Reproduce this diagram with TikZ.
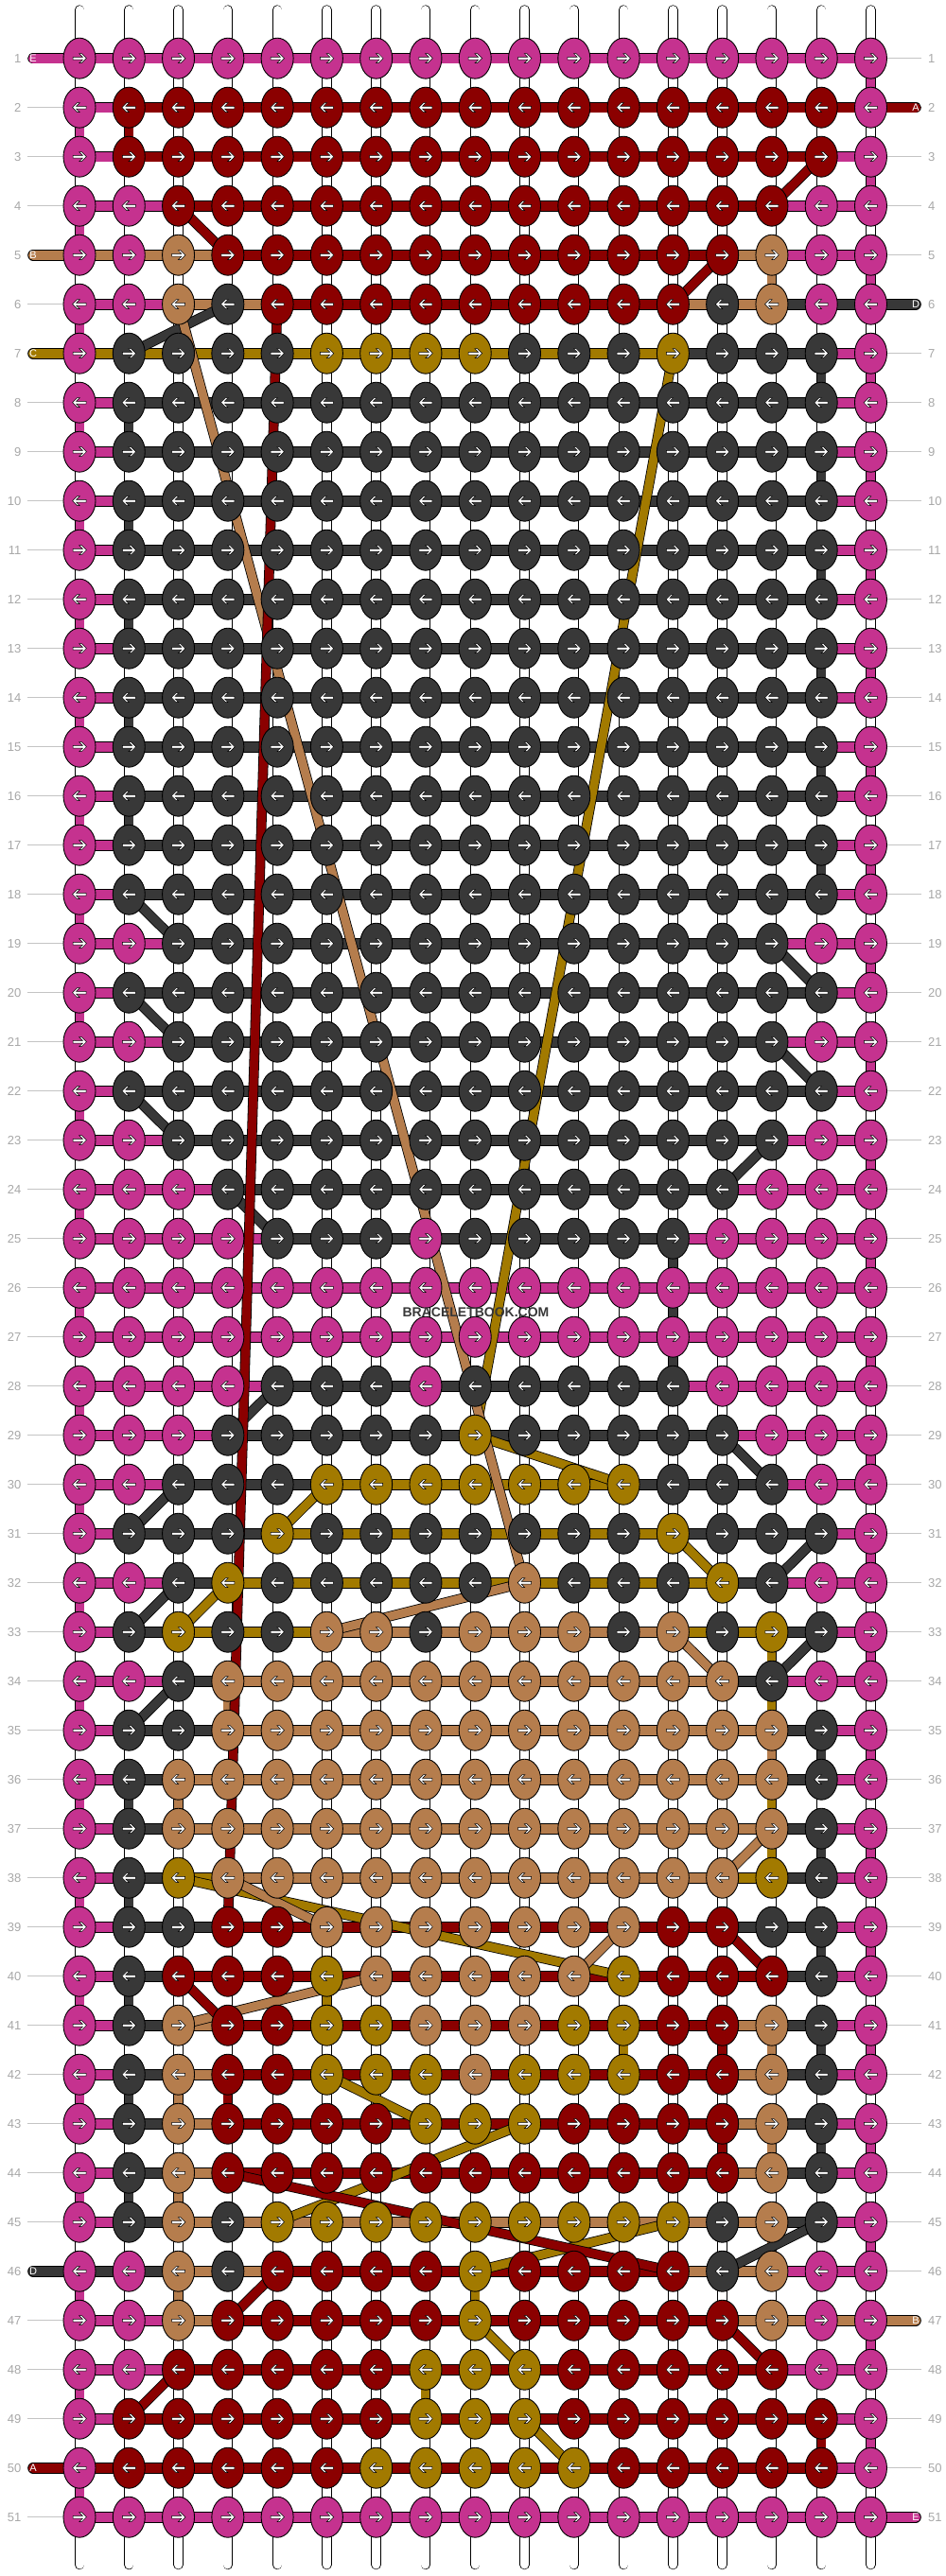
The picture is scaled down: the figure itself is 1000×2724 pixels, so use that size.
\documentclass[tikz,border=0pt]{standalone}
\usepackage{fontspec}
\setmainfont{Liberation Sans}
\usetikzlibrary{shapes.geometric}
\definecolor{cP}{HTML}{C5328F}
\definecolor{cR}{HTML}{8B0000}
\definecolor{cT}{HTML}{B57D4D}
\definecolor{cG}{HTML}{A27A00}
\definecolor{cK}{HTML}{383838}
\definecolor{labgray}{HTML}{A8A8A8}
\definecolor{lingray}{HTML}{C4C4C4}
\newcount\knotcnt
\tikzset{
  knot/.style={ellipse, draw=black, line width=0.9pt, minimum width=34pt, minimum height=43pt, inner sep=0pt},
  arrowst/.style={fill=white, draw=black, line width=0.5pt},
  hthr/.style={draw=black, line width=0.8pt, double=#1, double distance=10pt},
  dthr/.style={draw=black, line width=0.8pt, double=#1, double distance=9pt},
  vthr/.style={draw=black, line width=0.7pt, double=#1, double distance=9pt},
  wstring/.style={draw=black, line width=0.7pt, double=white, double distance=9pt, line cap=round},
  labline/.style={draw=lingray, line width=1.2pt},
  lab/.style={text=labgray, font=\fontsize{13}{13}\selectfont, inner sep=0pt},
  stublab/.style={text=white, font=\fontsize{11}{11}\selectfont, inner sep=0pt},
  wm/.style={text=cK, font=\fontsize{14}{14}\selectfont\bfseries, inner sep=1pt}
}
\newcommand\krow[2]{%
  \global\knotcnt=0
  \foreach \cc/\nn in {#2}{%
    \foreach \ii in {1,...,\nn}{%
      \global\advance\knotcnt by 1
      \edef\cn{\the\knotcnt}%
      \node[knot, fill=c\cc] (k-#1-\cn) at (p-#1-\cn) {};
      \ifodd#1\relax\def\adir{1}\else\def\adir{-1}\fi
      \draw[arrowst, shift={(p-#1-\cn)}, xscale=\adir] (-7,-1.4) -- (3.3,-1.4) -- (-0.2,-5) -- (2.4,-5) -- (7.4,0) -- (2.4,5) -- (-0.2,5) -- (3.3,1.4) -- (-7,1.4) -- cycle;
    }}}
\newcommand\srow[2]{%
  \global\knotcnt=0
  \foreach \cc/\nn in {#2}{%
    \foreach \ii in {1,...,\nn}{%
      \global\advance\knotcnt by 1
      \edef\cn{\the\knotcnt}%
      \pgfmathtruncatemacro\cm{\the\knotcnt+1}%
      \draw[hthr=c\cc] (p-#1-\cn) -- (p-#1-\cm);
    }}}
\begin{document}
\begin{tikzpicture}[x=1pt,y=-1pt]
\useasboundingbox (0,0) rectangle (1000,2724);
\fill[white] (0,0) rectangle (1000,2724);
% grid coordinates
\foreach \r in {1,...,51}{
  \foreach \c in {1,...,17}{
    \coordinate (p-\r-\c) at ({84+52.28*(\c-1)},{61.7+52*(\r-1)});
  }
}
% white base strings
\foreach \c in {1,...,17}{
  \coordinate (top-\c) at ({84+52.28*(\c-1)},10.5);
  \coordinate (bot-\c) at ({84+52.28*(\c-1)},2712);
  \draw[wstring] (top-\c) -- (bot-\c);
}
% row numbers and guide lines
\foreach \r in {1,...,51}{
  \pgfmathsetmacro\yy{61.7+52*(\r-1)}
  \coordinate (le-\r) at (28.5,\yy);
  \coordinate (re-\r) at (974,\yy);
  \coordinate (ls-\r) at (35,\yy);
  \coordinate (rs-\r) at (968,\yy);
  \draw[labline] (le-\r) -- (p-\r-1);
  \draw[labline] (p-\r-17) -- (re-\r);
  \node[lab, anchor=east] (nl-\r) at (22.5,\yy) {\r};
  \node[lab, anchor=west] (nr-\r) at (981,\yy) {\r};
}
% vertical connectors
\foreach \r in {1,...,50}{
  \pgfmathtruncatemacro\rn{\r+1}
  \ifodd\r\relax\def\vc{17}\else\def\vc{1}\fi
  \draw[vthr=cP] (p-\r-\vc) -- (p-\rn-\vc);
}
\foreach \r/\c/\col in {7/16/cK,8/2/cK,9/16/cK,10/2/cK,11/16/cK,12/2/cK,13/16/cK,14/2/cK,15/16/cK,16/2/cK,17/16/cK,
  25/13/cK,26/13/cK,27/13/cK,35/16/cK,36/2/cK,37/16/cK,38/2/cK,39/16/cK,40/2/cK,41/16/cK,42/2/cK,43/16/cK,44/2/cK,
  2/2/cR,41/14/cR,42/4/cR,43/14/cR,49/16/cR,
  33/15/cG,34/15/cG,36/15/cG,37/15/cG,40/6/cG,41/12/cG,46/9/cG,48/8/cG,
  5/15/cT,34/4/cT,35/15/cT,36/3/cT,41/15/cT,42/3/cT,43/15/cT,44/3/cT,45/15/cT,46/3/cT}{
  \pgfmathtruncatemacro\rn{\r+1}
  \draw[vthr=\col] (p-\r-\c) -- (p-\rn-\c);
}
% horizontal segments
\srow{1}{P/16}
\srow{2}{P/1,R/15}
\srow{3}{P/1,R/14,P/1}
\srow{4}{P/2,R/12,P/2}
\srow{5}{T/3,R/10,T/1,P/2}
\srow{6}{P/2,T/2,R/8,T/2,K/2}
\srow{7}{G/12,K/3,P/1}
\foreach \r in {8,9,10,11,12,13,14,15,16,17,18,20,22}{\srow{\r}{P/1,K/14,P/1}}
\foreach \r in {19,21,23}{\srow{\r}{P/2,K/12,P/2}}
\srow{24}{P/3,K/10,P/3}
\srow{25}{P/4,K/8,P/4}
\srow{26}{P/16}
\srow{27}{P/16}
\srow{28}{P/4,K/8,P/4}
\srow{29}{P/3,K/10,P/3}
\srow{30}{P/2,K/3,G/6,K/3,P/2}
\srow{31}{P/1,K/3,G/8,K/3,P/1}
\srow{32}{P/2,K/1,G/10,K/1,P/2}
\srow{33}{P/1,K/1,G/3,T/7,G/2,K/1,P/1}
\srow{34}{P/2,K/1,T/10,K/1,P/2}
\srow{35}{P/1,K/2,T/11,K/1,P/1}
\srow{36}{P/1,K/1,T/12,K/1,P/1}
\srow{37}{P/1,K/1,T/12,K/1,P/1}
\srow{38}{P/1,K/1,G/1,T/10,G/1,K/1,P/1}
\srow{39}{P/1,K/2,R/10,K/2,P/1}
\srow{40}{P/1,K/1,R/12,K/1,P/1}
\foreach \r in {41,42,43,44}{\srow{\r}{P/1,K/1,T/1,R/10,T/1,K/1,P/1}}
\srow{45}{P/1,K/1,T/12,K/1,P/1}
\srow{46}{K/2,T/2,R/8,T/2,P/2}
\srow{47}{P/2,T/1,R/10,T/3}
\srow{48}{P/2,R/12,P/2}
\srow{49}{P/1,R/14,P/1}
\srow{50}{R/15,P/1}
\srow{51}{P/16}
% thread ends with letters
\foreach \r/\col/\lt in {1/cP/E,5/cT/B,7/cG/C,46/cK/D,50/cR/A}{
  \draw[hthr=\col, line cap=round] (ls-\r) -- (p-\r-1);
  \node[stublab] (sl-\r) at (ls-\r) {\lt};
}
\foreach \r/\col/\lt in {2/cR/A,6/cK/D,47/cT/B,51/cP/E}{
  \draw[hthr=\col, line cap=round] (p-\r-17) -- (rs-\r);
  \node[stublab] (sr-\r) at (rs-\r) {\lt};
}
% diagonal thread moves
\foreach \ra/\ca/\rb/\cb in {6/4/7/2,18/2/19/3,19/15/20/16,20/2/21/3,21/15/22/16,22/2/23/3,23/15/24/14,24/4/25/5,28/5/29/4,29/14/30/15,30/3/31/2,31/16/32/15,32/3/33/2,33/16/34/15,34/3/35/2,45/16/46/14}{
  \draw[dthr=cK] (p-\ra-\ca) -- (p-\rb-\cb);
}
\foreach \ra/\ca/\rb/\cb in {7/13/29/9,29/9/30/12,30/6/31/5,31/13/32/14,32/4/33/3,38/3/40/12,42/6/43/8,43/10/45/5,45/13/46/9,47/9/48/10,49/10/50/11}{
  \draw[dthr=cG] (p-\ra-\ca) -- (p-\rb-\cb);
}
\foreach \ra/\ca/\rb/\cb in {6/3/32/10,32/10/33/6,33/13/34/14,37/15/38/14,38/4/39/6,39/12/40/11,40/7/41/3}{
  \draw[dthr=cT] (p-\ra-\ca) -- (p-\rb-\cb);
}
\foreach \ra/\ca/\rb/\cb in {3/16/4/15,4/3/5/4,5/14/6/13,6/5/39/4,39/14/40/15,40/3/41/4,44/4/46/13,46/5/47/4,47/14/48/15,48/3/49/2}{
  \draw[dthr=cR] (p-\ra-\ca) -- (p-\rb-\cb);
}
% knots
\krow{1}{P/17}
\krow{2}{P/1,R/15,P/1}
\krow{3}{P/1,R/15,P/1}
\krow{4}{P/2,R/13,P/2}
\krow{5}{P/2,T/1,R/11,T/1,P/2}
\krow{6}{P/2,T/1,K/1,R/9,K/1,T/1,P/2}
\krow{7}{P/1,K/4,G/4,K/3,G/1,K/3,P/1}
\foreach \r in {8,9,10,11,12,13,14,15,16,17,18,20,22}{\krow{\r}{P/1,K/15,P/1}}
\foreach \r in {19,21,23}{\krow{\r}{P/2,K/13,P/2}}
\krow{24}{P/3,K/11,P/3}
\krow{25}{P/4,K/3,P/1,K/5,P/4}
\krow{26}{P/17}
\krow{27}{P/17}
\krow{28}{P/4,K/3,P/1,K/5,P/4}
\krow{29}{P/3,K/5,G/1,K/5,P/3}
\krow{30}{P/2,K/3,G/7,K/3,P/2}
\krow{31}{P/1,K/3,G/1,K/7,G/1,K/3,P/1}
\krow{32}{P/2,K/1,G/1,K/5,T/1,K/3,G/1,K/1,P/2}
\krow{33}{P/1,K/1,G/1,K/2,T/2,K/1,T/3,K/1,T/1,K/1,G/1,K/1,P/1}
\krow{34}{P/2,K/1,T/11,K/1,P/2}
\krow{35}{P/1,K/2,T/12,K/1,P/1}
\krow{36}{P/1,K/1,T/13,K/1,P/1}
\krow{37}{P/1,K/1,T/13,K/1,P/1}
\krow{38}{P/1,K/1,G/1,T/11,G/1,K/1,P/1}
\krow{39}{P/1,K/2,R/2,T/7,R/2,K/2,P/1}
\krow{40}{P/1,K/1,R/3,G/1,T/5,G/1,R/3,K/1,P/1}
\krow{41}{P/1,K/1,T/1,R/2,G/2,T/3,G/2,R/2,T/1,K/1,P/1}
\krow{42}{P/1,K/1,T/1,R/2,G/3,T/1,G/3,R/2,T/1,K/1,P/1}
\krow{43}{P/1,K/1,T/1,R/4,G/3,R/4,T/1,K/1,P/1}
\krow{44}{P/1,K/1,T/1,R/11,T/1,K/1,P/1}
\krow{45}{P/1,K/1,T/1,K/1,G/9,K/1,T/1,K/1,P/1}
\krow{46}{P/2,T/1,K/1,R/4,G/1,R/4,K/1,T/1,P/2}
\krow{47}{P/2,T/1,R/5,G/1,R/5,T/1,P/2}
\krow{48}{P/2,R/5,G/3,R/5,P/2}
\krow{49}{P/1,R/6,G/3,R/6,P/1}
\krow{50}{P/1,R/5,G/5,R/5,P/1}
\krow{51}{P/17}
% watermark
\node[wm] (wm) at (503,1388) {BRACELETBOOK.COM};
\end{tikzpicture}
\end{document}
